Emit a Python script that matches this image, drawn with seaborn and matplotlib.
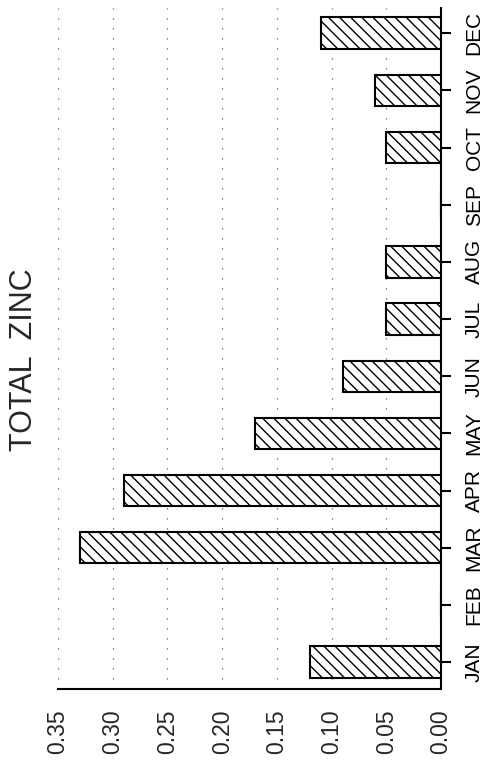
import numpy as np
import pandas as pd
import matplotlib
matplotlib.use("Agg")
import matplotlib.pyplot as plt
import seaborn as sns

months = ["JAN", "FEB", "MAR", "APR", "MAY", "JUN", "JUL", "AUG", "SEP", "OCT", "NOV", "DEC"]
zinc = [0.12, 0.0, 0.33, 0.29, 0.17, 0.09, 0.05, 0.05, 0.0, 0.05, 0.06, 0.11]
value_ticks = [0.00, 0.05, 0.10, 0.15, 0.20, 0.25, 0.30, 0.35]
value_labels = ["0.00", "0.05", "0.10", "0.15", "0.20", "0.25", "0.30", "0.35"]
title = "TOTAL  ZINC"

sns.set_style("white")
plt.rcParams["font.family"] = ["Liberation Sans", "DejaVu Sans"]
plt.rcParams["hatch.linewidth"] = 1.0
plt.rcParams["hatch.color"] = "black"

df = pd.DataFrame({"month": months, "zinc": zinc})

fig = plt.figure(figsize=(4.86, 7.63), dpi=100)
ax = fig.add_axes([58 / 486, 1 - 689 / 763, (441 - 58) / 486, (689 - 8) / 763])

sns.barplot(data=df, x="zinc", y="month", order=months, orient="h",
            color="white", edgecolor="black", linewidth=1.5, width=0.55,
            hatch="\\\\\\", ax=ax, zorder=3)

ax.set_xlim(0.35, 0.0)
ax.set_ylim(-0.47, 11.44)

ax.set_xticks(value_ticks)
ax.set_xticklabels(value_labels, rotation=90, fontsize=16.5)
ax.tick_params(axis="x", length=0, pad=15)

ax.yaxis.tick_right()
ax.set_yticks(range(len(months)))
ax.set_yticklabels(months, rotation=90, fontsize=15, va="center")
ax.tick_params(axis="y", direction="out", length=7, width=1.5, pad=10, colors="black")

ax.set_xlabel("")
ax.set_ylabel("")

for s in ["left", "top"]:
    ax.spines[s].set_visible(False)
for s in ["right", "bottom"]:
    ax.spines[s].set_visible(True)
    ax.spines[s].set_linewidth(1.5)
    ax.spines[s].set_color("black")

ax.set_axisbelow(True)
ax.grid(axis="x", linestyle=(0, (1, 7)), color="0.35", linewidth=0.9)
ax.grid(axis="y", visible=False)

fig.text(24 / 486, 1 - 360 / 763, title, rotation=90, ha="center", va="center", fontsize=22)

fig.savefig("out.png", dpi=100)
